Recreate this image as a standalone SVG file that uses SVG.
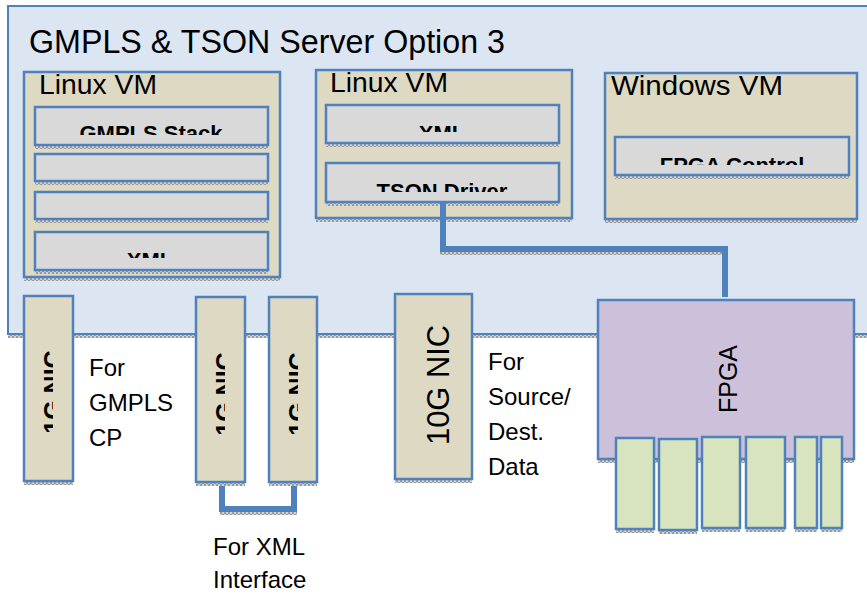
<svg xmlns="http://www.w3.org/2000/svg" width="867" height="597" viewBox="0 0 867 597">
<style>
.box{stroke:#4F81BD;stroke-width:2.5}
.outer{fill:#DCE6F2;stroke:#4F81BD;stroke-width:2}
.vm{fill:#DDD9C3}
.inner{fill:#D9D9D9}
.fpga{fill:#CCC0DA}
.port{fill:#D7E4BD}
.sh{fill:url(#dots)}
.t{font-family:"Liberation Sans",Arial,sans-serif;fill:#000}
.b{font-weight:bold;text-anchor:middle}
.conn{fill:none;stroke:#4F81BD;stroke-width:6}
</style>
<defs>
<pattern id="dots" width="4" height="4" patternUnits="userSpaceOnUse">
<rect width="4" height="4" fill="#d0d0d0"/>
<rect width="2" height="2" fill="#9a9a9a"/>
<rect x="2" y="2" width="2" height="2" fill="#9a9a9a"/>
</pattern>
<clipPath id="c1"><rect x="35" y="107" width="233" height="28"/></clipPath>
<clipPath id="c2"><rect x="35" y="232" width="233" height="26"/></clipPath>
<clipPath id="c3"><rect x="326" y="105" width="233" height="27"/></clipPath>
<clipPath id="c4"><rect x="326" y="163" width="233" height="29"/></clipPath>
<clipPath id="c5"><rect x="615" y="137" width="234" height="28"/></clipPath>
<clipPath id="n1"><rect x="24" y="296" width="29" height="185"/></clipPath>
<clipPath id="n2"><rect x="196" y="297" width="29" height="185"/></clipPath>
<clipPath id="n3"><rect x="269" y="297" width="29" height="185"/></clipPath>
</defs>

<g id="server">
<rect class="sh" x="8" y="335" width="870" height="3"/>
<rect class="outer" x="8" y="6" width="870" height="328"/>
<text class="t" x="29" y="53" font-size="33" textLength="476" lengthAdjust="spacingAndGlyphs">GMPLS &amp; TSON Server Option 3</text>
</g>

<g id="linux-vm-1">
<rect class="sh" x="24" y="278" width="256" height="3"/>
<rect class="box vm" x="24" y="72" width="256" height="205"/>
<text class="t" x="39" y="94" font-size="27" textLength="118" lengthAdjust="spacingAndGlyphs">Linux VM</text>
<rect class="sh" x="35" y="146" width="233" height="3"/>
<rect class="box inner" x="35" y="107" width="233" height="38"/>
<text class="t b" x="151" y="141" font-size="22" clip-path="url(#c1)">GMPLS Stack</text>
<rect class="sh" x="35" y="182" width="233" height="3"/>
<rect class="box inner" x="35" y="154" width="233" height="27"/>
<rect class="sh" x="35" y="220" width="233" height="3"/>
<rect class="box inner" x="35" y="192" width="233" height="27"/>
<rect class="sh" x="35" y="271" width="233" height="3"/>
<rect class="box inner" x="35" y="232" width="233" height="38"/>
<text class="t b" x="150" y="268" font-size="22" clip-path="url(#c2)">XML</text>
</g>

<g id="linux-vm-2">
<rect class="sh" x="316" y="219" width="256" height="3"/>
<rect class="box vm" x="316" y="70" width="256" height="148"/>
<text class="t" x="330" y="92" font-size="27" textLength="118" lengthAdjust="spacingAndGlyphs">Linux VM</text>
<rect class="sh" x="326" y="144" width="233" height="3"/>
<rect class="box inner" x="326" y="105" width="233" height="38"/>
<text class="t b" x="442" y="141" font-size="22" clip-path="url(#c3)">XML</text>
<rect class="sh" x="326" y="203" width="233" height="3"/>
<rect class="box inner" x="326" y="163" width="233" height="39"/>
<text class="t b" x="442" y="199" font-size="22" clip-path="url(#c4)">TSON Driver</text>
</g>

<g id="windows-vm">
<rect class="sh" x="605" y="220" width="252" height="3"/>
<rect class="box vm" x="605" y="73" width="252" height="146"/>
<text class="t" x="611" y="95" font-size="27" textLength="172" lengthAdjust="spacingAndGlyphs">Windows VM</text>
<rect class="sh" x="615" y="176" width="234" height="3"/>
<rect class="box inner" x="615" y="137" width="234" height="38"/>
<text class="t b" x="732" y="173" font-size="22" clip-path="url(#c5)">FPGA Control</text>
</g>

<g id="connectors">
<rect class="sh" x="440" y="252" width="288" height="3"/>
<path class="conn" d="M443 202 V249 H725 V297"/>
<rect class="sh" x="220" y="512" width="77" height="3"/>
<path class="conn" stroke-width="5" d="M222 482 V509 H294 V482"/>
</g>

<g id="nic-1">
<rect class="sh" x="24" y="482" width="49" height="3"/>
<rect class="box vm" x="24" y="296" width="49" height="185"/>
<g clip-path="url(#n1)"><text class="t b" transform="translate(62,392) rotate(-90)" font-size="25">1G NIC</text></g>
</g>
<g id="nic-2">
<rect class="sh" x="196" y="483" width="49" height="3"/>
<rect class="box vm" x="196" y="297" width="49" height="185"/>
<g clip-path="url(#n2)"><text class="t b" transform="translate(234,394) rotate(-90)" font-size="25">1G NIC</text></g>
</g>
<g id="nic-3">
<rect class="sh" x="269" y="483" width="48" height="3"/>
<rect class="box vm" x="269" y="297" width="48" height="185"/>
<g clip-path="url(#n3)"><text class="t b" transform="translate(307,394) rotate(-90)" font-size="25">1G NIC</text></g>
</g>
<g id="nic-10g">
<rect class="sh" x="395" y="480" width="77" height="3"/>
<rect class="box vm" x="395" y="294" width="77" height="185"/>
<text class="t b" style="font-weight:normal" transform="translate(449,385) rotate(-90)" font-size="32" textLength="120" lengthAdjust="spacingAndGlyphs">10G NIC</text>
</g>

<g id="fpga">
<rect class="sh" x="598" y="460" width="256" height="3"/>
<rect class="box fpga" x="598" y="300" width="256" height="159"/>
<text class="t b" style="font-weight:normal" transform="translate(737,379) rotate(-90)" font-size="25">FPGA</text>
</g>
<g id="fpga-ports">
<rect class="sh" x="616" y="530" width="38" height="3"/>
<rect class="box port" x="616" y="438" width="38" height="91"/>
<rect class="sh" x="659" y="531" width="38" height="3"/>
<rect class="box port" x="659" y="439" width="38" height="91"/>
<rect class="sh" x="702" y="529" width="38" height="3"/>
<rect class="box port" x="702" y="437" width="38" height="91"/>
<rect class="sh" x="746" y="529" width="39" height="3"/>
<rect class="box port" x="746" y="437" width="39" height="91"/>
<rect class="sh" x="795" y="529" width="22" height="3"/>
<rect class="box port" x="795" y="437" width="22" height="91"/>
<rect class="sh" x="821" y="529" width="21" height="3"/>
<rect class="box port" x="821" y="437" width="21" height="91"/>
</g>

<g id="labels">
<text class="t" font-size="24"><tspan x="89" y="376">For</tspan><tspan x="89" y="411">GMPLS</tspan><tspan x="89" y="446">CP</tspan></text>
<text class="t" font-size="24"><tspan x="213" y="555">For XML</tspan><tspan x="213" y="588">Interface</tspan></text>
<text class="t" font-size="24"><tspan x="488" y="370">For</tspan><tspan x="488" y="405">Source/</tspan><tspan x="488" y="440">Dest.</tspan><tspan x="488" y="475">Data</tspan></text>
</g>
</svg>
